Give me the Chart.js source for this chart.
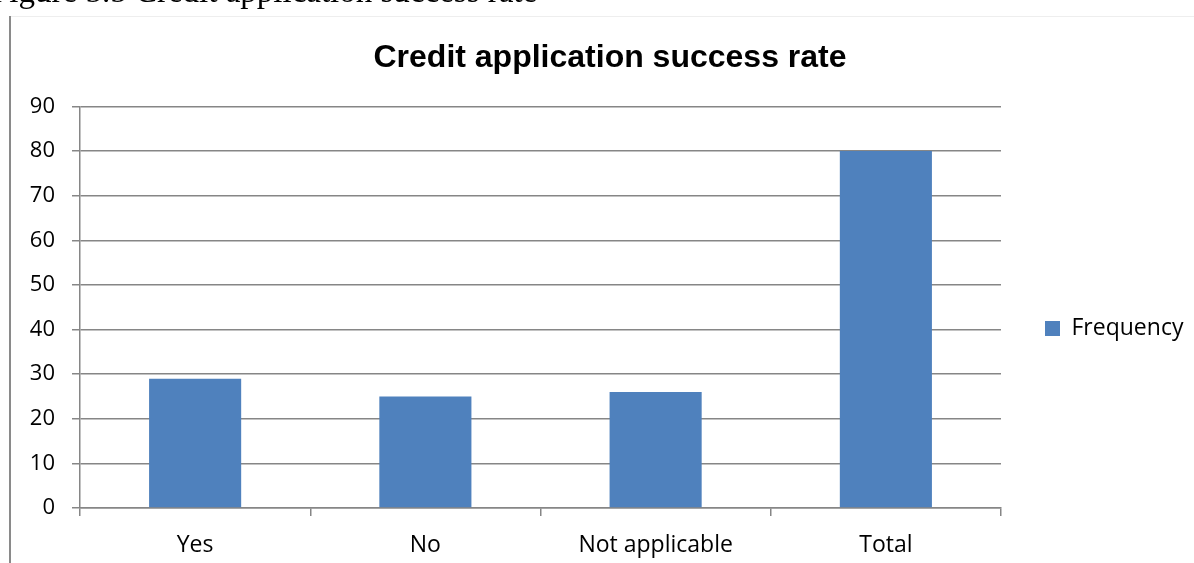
<!DOCTYPE html>
<html>
<head>
<meta charset="utf-8">
<title>Credit application success rate</title>
<script src="https://cdn.jsdelivr.net/npm/chart.js@4.4.1/dist/chart.umd.min.js"></script>
<style>
  html, body { margin: 0; padding: 0; background: #ffffff; }
  #wrap { width: 1194px; height: 563px; }
</style>
</head>
<body>
<div id="wrap"><canvas id="chart" width="1194" height="563"></canvas></div>
<script>
// Survey responses: was the credit application successful?
const categories = ['Yes', 'No', 'Not applicable', 'Total'];
const frequency = [29, 25, 26, 80];
const yTicks = [0, 10, 20, 30, 40, 50, 60, 70, 80, 90];
const seriesName = 'Frequency';
const chartTitle = 'Credit application success rate';
const captionText = 'Figure 5.5 Credit application success rate';

const BAR_BLUE = '#4F81BD';
const AXIS_GREY = '#868686';
const FONT_FAMILY = '"Open Sans", "Liberation Sans", sans-serif';
const Y_FONT = { family: FONT_FAMILY, size: 22 };
const X_FONT = { family: FONT_FAMILY, size: 23 };
const LEGEND_WIDTH = 193;
const LEGEND_DROP = 47;

// Page decoration: document caption above the chart and the frame edges.
const pageFrame = {
  id: 'pageFrame',
  beforeDraw(chart) {
    const ctx = chart.ctx;
    ctx.save();
    ctx.fillStyle = '#ffffff';
    ctx.fillRect(0, 0, chart.width, chart.height);

    ctx.fillStyle = '#000000';
    ctx.font = '33px "Liberation Serif", "Times New Roman", serif';
    ctx.textBaseline = 'alphabetic';
    ctx.textAlign = 'left';
    ctx.fillText(captionText, -9, 2);

    ctx.strokeStyle = '#eeeeee';
    ctx.lineWidth = 1;
    ctx.beginPath();
    ctx.moveTo(10, 16.5);
    ctx.lineTo(chart.width, 16.5);
    ctx.stroke();

    ctx.strokeStyle = '#8a8a8a';
    ctx.lineWidth = 2;
    ctx.beginPath();
    ctx.moveTo(10, 16);
    ctx.lineTo(10, chart.height);
    ctx.stroke();
    ctx.restore();
  }
};

// Right-hand legend column: fixed width, entry sitting a little below the middle.
const legendColumn = {
  id: 'legendColumn',
  beforeLayout(chart) {
    const lg = chart.legend;
    if (lg && !lg.__fixedWidth) {
      const baseFit = lg.fit.bind(lg);
      lg.fit = function () {
        baseFit();
        this.width = LEGEND_WIDTH;
      };
      lg.__fixedWidth = true;
    }
  },
  afterLayout(chart) {
    const lg = chart.legend;
    if (lg) {
      lg.top += LEGEND_DROP;
      lg.bottom += LEGEND_DROP;
    }
  }
};

new Chart(document.getElementById('chart'), {
  type: 'bar',
  data: {
    labels: categories,
    datasets: [{
      label: seriesName,
      data: frequency,
      backgroundColor: BAR_BLUE,
      borderWidth: 0,
      barPercentage: 0.4,
      categoryPercentage: 1.0
    }]
  },
  options: {
    responsive: false,
    animation: false,
    devicePixelRatio: 1,
    layout: { padding: { left: 26, right: 0, top: 0, bottom: 0 } },
    plugins: {
      legend: {
        display: true,
        position: 'right',
        align: 'center',
        labels: {
          color: '#000000',
          font: X_FONT,
          boxWidth: 15,
          boxHeight: 15,
          padding: 44
        }
      },
      tooltip: { enabled: false },
      title: {
        display: true,
        text: chartTitle,
        color: '#000000',
        font: { family: '"Liberation Sans", Arial, sans-serif', size: 32, weight: 'bold', lineHeight: 1.2 },
        padding: { top: 39, bottom: 29.1 }
      }
    },
    scales: {
      x: {
        type: 'category',
        offset: true,
        afterFit(scale) { scale.height = 55; },
        grid: {
          offset: true,
          drawOnChartArea: false,
          drawTicks: true,
          tickLength: 8,
          color: AXIS_GREY,
          lineWidth: 1.5
        },
        border: { display: true, color: AXIS_GREY, width: 1.5 },
        ticks: { color: '#000000', font: X_FONT, padding: 16, maxRotation: 0 }
      },
      y: {
        min: 0,
        max: 90,
        afterFit(scale) { scale.width = 54; },
        afterBuildTicks(scale) { scale.ticks = yTicks.map(v => ({ value: v })); },
        grid: {
          color: AXIS_GREY,
          lineWidth: 1.5,
          tickLength: 8,
          drawTicks: true
        },
        border: { display: true, color: AXIS_GREY, width: 1.5 },
        ticks: { color: '#000000', font: Y_FONT, padding: 17 }
      }
    }
  },
  plugins: [pageFrame, legendColumn]
});
</script>
</body>
</html>
